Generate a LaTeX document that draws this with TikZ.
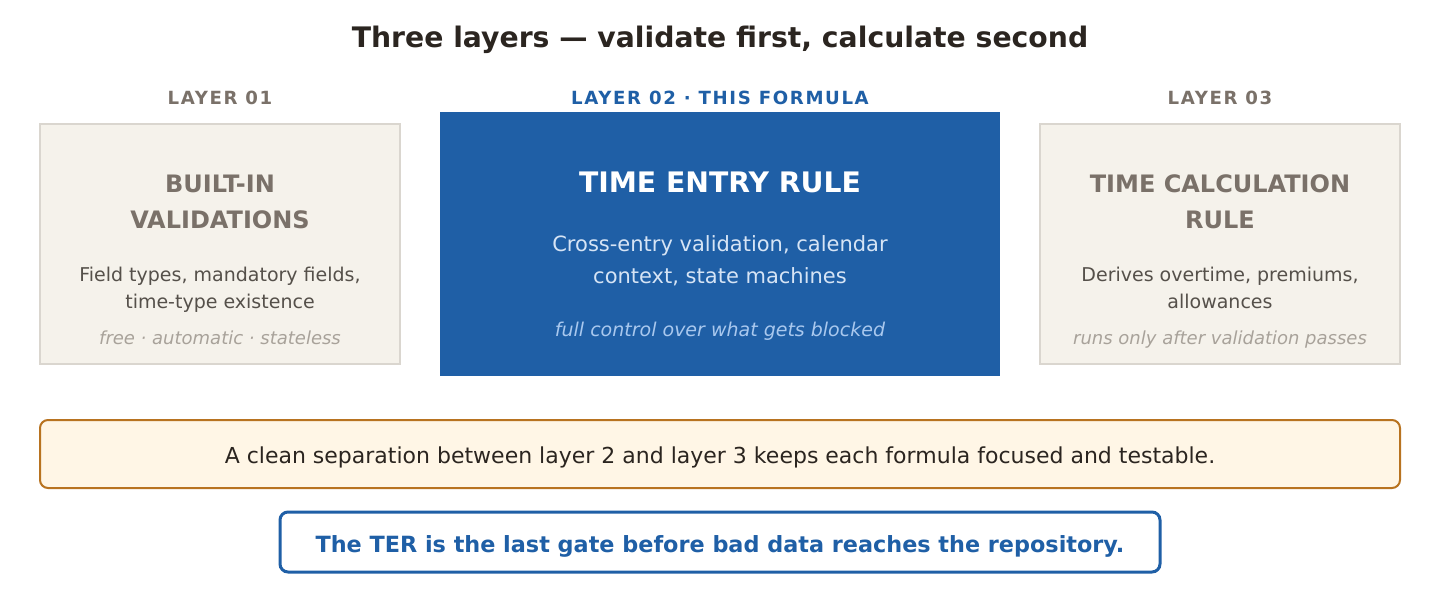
\documentclass[tikz,border=0pt]{standalone}
\usepackage{fontspec}
\setmainfont{DejaVu Sans}
\definecolor{titlec}{HTML}{2B2520}
\definecolor{sidefill}{HTML}{F5F2EB}
\definecolor{sideborder}{HTML}{DAD6CF}
\definecolor{sidehead}{HTML}{7A7169}
\definecolor{sidebody}{HTML}{55504A}
\definecolor{sideital}{HTML}{A8A29A}
\definecolor{terblue}{HTML}{1F5FA6}
\definecolor{terbody}{HTML}{D6E4F5}
\definecolor{terital}{HTML}{A9C8EE}
\definecolor{notefill}{HTML}{FFF6E6}
\definecolor{noteborder}{HTML}{B87320}
\newcommand{\fs}[1]{\fontsize{#1}{#1}\selectfont}
\newfontfamily\spacedbold[LetterSpace=9]{DejaVu Sans Bold}
\tikzset{
  txt/.style={anchor=base, inner sep=0pt},
  layerlbl/.style={txt, font=\spacedbold\fs{13.6pt}, text=sidehead},
  sidehd/.style={txt, font=\fs{18pt}\bfseries, text=sidehead},
  sidebd/.style={txt, font=\fs{14.25pt}, text=sidebody},
  sideit/.style={txt, font=\fs{13.5pt}\itshape, text=sideital},
  sidebox/.style={draw=sideborder, fill=sidefill, line width=1.5pt},
}
\begin{document}
\begin{tikzpicture}[x=0.75pt,y=-0.75pt]
\useasboundingbox (0,0) rectangle (1440,600);
\fill[white] (0,0) rectangle (1440,600);
% title
\node[txt, font=\fs{21.2pt}\bfseries, text=titlec] (title) at (720,47.5) {Three layers — validate first, calculate second};
% layer labels
\node[layerlbl] (l1) at (220,104) {LAYER 01};
\node[layerlbl, text=terblue] (l2) at (720,104) {LAYER 02 · THIS FORMULA};
\node[layerlbl] (l3) at (1220,104) {LAYER 03};
% boxes
\draw[sidebox] (40,124) rectangle (400,364);
\fill[terblue] (440,112) rectangle (1000,376);
\draw[sidebox] (1040,124) rectangle (1400,364);
% left box text
\node[sidehd] (b1a) at (220,192) {BUILT-IN};
\node[sidehd] (b1b) at (220,228) {VALIDATIONS};
\node[sidebd] (b1c) at (220,281) {Field types, mandatory fields,};
\node[sidebd] (b1d) at (220,308.5) {time-type existence};
\node[sideit] (b1e) at (220,344) {free · automatic · stateless};
% center text
\node[txt, font=\fs{21.2pt}\bfseries, text=white] (b2a) at (720,192) {TIME ENTRY RULE};
\node[txt, font=\fs{15.75pt}, text=terbody] (b2b) at (720,251.5) {Cross-entry validation, calendar};
\node[txt, font=\fs{15.75pt}, text=terbody] (b2c) at (720,283.5) {context, state machines};
\node[txt, font=\fs{14.25pt}\itshape, text=terital] (b2d) at (720,336) {full control over what gets blocked};
% right box text
\node[sidehd] (b3a) at (1220,192) {TIME CALCULATION};
\node[sidehd] (b3b) at (1220,228) {RULE};
\node[sidebd] (b3c) at (1220,281) {Derives overtime, premiums,};
\node[sidebd] (b3d) at (1220,308.5) {allowances};
\node[sideit] (b3e) at (1220,344) {runs only after validation passes};
% note
\draw[draw=noteborder, fill=notefill, line width=1.5pt, rounded corners=6pt] (40,420) rectangle (1400,488);
\node[txt, font=\fs{16.5pt}, text=titlec] (note) at (720,463.5) {A clean separation between layer 2 and layer 3 keeps each formula focused and testable.};
% bottom
\draw[draw=terblue, fill=white, line width=2.25pt, rounded corners=6pt] (280,512) rectangle (1160,572);
\node[txt, font=\fs{16.75pt}\bfseries, text=terblue] (gate) at (720,552.5) {The TER is the last gate before bad data reaches the repository.};
\end{tikzpicture}
\end{document}
